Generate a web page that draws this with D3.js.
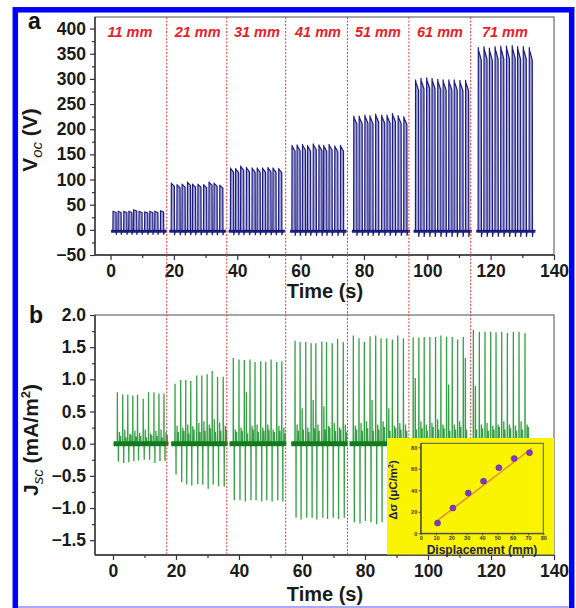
<!DOCTYPE html>
<html><head><meta charset="utf-8">
<script src="https://cdn.jsdelivr.net/npm/d3@7"></script>
<style>
body{margin:0;background:#fff}
svg{display:block}
text{font-family:"Liberation Sans",Arial,Helvetica,sans-serif;font-weight:bold}
</style>
</head><body>
<svg id="c" width="576" height="608"></svg>
<script>
// ---------------- DATA ----------------
const distanceLabels = ["11 mm","21 mm","31 mm","41 mm","51 mm","61 mm","71 mm"];
const distanceLabelT = [6.1, 27.5, 46.2, 65.5, 84.4, 104.0, 124.5];
const boundaryT = [17.75, 36.7, 55.3, 74.8, 94.2, 113.7];

const xTicks = [0,20,40,60,80,100,120,140];
const vocTicks = [-50,0,50,100,150,200,250,300,350,400];
const jscTicks = [-1.5,-1.0,-0.5,0.0,0.5,1.0,1.5,2.0];
const insetXTicks = [0,10,20,30,40,50,60,70,80];
const insetYTicks = [0,20,40,60,80];

// Voc pulse trains (time of each pulse, peak voltage)
const vocTimes = [
  [0.8,2.4,4.2,5.8,7.3,9.0,10.8,12.4,14.0,15.8],
  [19.2,21.0,22.6,24.3,25.9,27.6,29.4,31.1,32.7,34.5],
  [37.9,39.5,41.1,42.9,44.7,46.3,48.0,49.7,51.3,53.1],
  [57.3,58.9,60.6,62.2,64.0,65.8,67.3,69.0,70.8,72.6],
  [76.8,78.5,80.3,81.9,83.7,85.6,87.3,89.0,90.8,92.6],
  [96.3,98.0,99.8,101.5,103.3,105.0,106.8,108.5,110.3,112.1],
  [116.1,117.9,119.6,121.4,123.2,125.0,126.8,128.5,130.3,132.2]
];
const vocPeaks = [
  [37,37,37,37,40,37,36,37,37,38],
  [93,90,91,95,91,91,90,95,93,89],
  [123,122,127,124,123,123,123,124,123,122],
  [168,169,170,168,171,169,168,170,167,168],
  [226,226,228,227,230,228,228,231,227,225],
  [298,301,302,301,299,298,298,298,297,297],
  [362,364,361,364,365,365,366,364,364,362]
];
const vocTroughs = [-9,-10,-10,-11,-11,-13,-13];

// Jsc spike trains
const jscTimes = [
  [1.4,3.1,4.7,6.3,7.8,9.6,11.3,13.0,14.6,16.2],
  [19.7,21.5,23.1,24.7,26.6,28.2,29.9,31.5,33.2,35.0],
  [38.2,40.0,41.7,43.5,45.1,46.9,48.5,50.2,52.0,53.6],
  [57.8,59.4,61.2,62.9,64.4,66.3,67.8,69.6,71.3,73.1],
  [76.3,78.1,79.8,81.6,83.4,85.1,86.9,88.7,90.4,92.2],
  [95.3,97.1,98.8,100.6,102.4,104.1,105.9,107.7,109.4,111.2],
  [114.4,116.3,118.1,119.9,121.6,123.4,125.2,127.1,128.9,130.8]
];
const jscPositive = [
  [0.80,0.77,0.76,0.75,0.76,0.70,0.80,0.80,0.78,0.78],
  [0.93,0.99,0.99,0.98,1.06,1.06,1.08,1.13,1.04,1.04],
  [1.33,1.31,1.30,1.31,1.27,1.28,1.27,1.31,1.27,1.28],
  [1.60,1.58,1.58,1.56,1.56,1.59,1.58,1.56,1.63,1.58],
  [1.68,1.64,1.58,1.67,1.68,1.64,1.64,1.62,1.68,1.64],
  [1.65,1.65,1.66,1.66,1.66,1.68,1.66,1.66,1.62,1.66],
  [1.77,1.74,1.74,1.74,1.73,1.74,1.72,1.74,1.74,1.72]
];
const jscNegative = [
  [-0.28,-0.30,-0.29,-0.27,-0.26,-0.25,-0.25,-0.30,-0.27,-0.27],
  [-0.48,-0.60,-0.63,-0.65,-0.63,-0.64,-0.70,-0.64,-0.66,-0.67],
  [-0.88,-0.88,-0.90,-0.88,-0.88,-0.90,-0.88,-0.90,-0.88,-0.90],
  [-1.15,-1.18,-1.15,-1.15,-1.18,-1.15,-1.17,-1.15,-1.17,-1.15],
  [-1.22,-1.24,-1.20,-1.22,-1.25,-1.22,-1.22,-1.24,-1.22,-1.22],
  [-1.28,-1.30,-1.28,-1.30,-1.28,-1.30,-1.28,-1.30,-1.28,-1.30],
  [-1.32,-1.33,-1.32,-1.33,-1.32,-1.33,-1.32,-1.33,-1.32,-1.33]
];
const jscSecondary = [
  [0.18,0.22,0.15,0.20,0.17,0.22,0.16,0.20,0.22,0.18],
  [0.28,0.25,0.30,0.27,0.32,0.35,0.30,0.38,0.33,0.28],
  [0.22,0.25,0.80,0.28,0.30,0.25,0.30,0.22,0.28,0.25],
  [0.30,0.55,0.25,0.68,0.30,0.58,0.28,0.32,0.25,0.30],
  [0.28,0.32,0.35,0.68,0.30,0.35,0.55,0.28,0.32,0.30],
  [1.02,0.35,0.30,0.32,0.38,0.30,0.92,0.30,0.35,1.33],
  [0.90,0.30,0.32,0.28,0.30,0.35,0.30,0.28,0.35,0.30]
];
const jscTertiary = [
  [0.12,0.10,0.14,0.11,0.12,0.10,0.13,0.12,0.10,0.14],
  [0.18,0.20,0.16,0.22,0.18,0.20,0.24,0.18,0.20,0.22],
  [0.18,0.20,0.16,0.22,0.18,0.20,0.22,0.18,0.20,0.16],
  [0.20,0.22,0.18,0.24,0.20,0.22,0.25,0.20,0.22,0.18],
  [0.22,0.20,0.24,0.20,0.22,0.26,0.20,0.24,0.22,0.20],
  [0.22,0.24,0.20,0.26,0.22,0.24,0.20,0.22,0.26,0.22],
  [0.22,0.24,0.20,0.22,0.26,0.22,0.24,0.20,0.22,0.26]
];

// Inset: charge density vs displacement
const insetDisp = [11,21,31,41,51,61,71];
const insetSigma = [9.5,23.5,37.5,48.5,61,69.5,75];
const fitX = [10.5,72.5];
const fitY = [11.5,79];

// ---------------- DRAW ----------------
const svg = d3.select("#c");

// outer blue border
svg.append("rect").attr("x",15.3).attr("y",9.8).attr("width",556.4).attr("height",640)
  .attr("fill","none").attr("stroke","#0000ff").attr("stroke-width",5.5);
svg.append("line").attr("x1",18).attr("x2",568.5).attr("y1",607).attr("y2",607)
  .attr("stroke","#a9a9f5").attr("stroke-width",2);

const L = 95, R = 554;
const xA = d3.scaleLinear([-4.9,140],[L,R]);
const yA = d3.scaleLinear([-50,423],[255,17]);
const xB = d3.scaleLinear([-5.7,140],[L,R]);
const yB = d3.scaleLinear([-1.73,2.0],[555,315]);

function minorVals(major){ const out=[]; for(let i=0;i<major.length-1;i++) out.push((major[i]+major[i+1])/2); return out; }

function drawAxes(x, y, yTicks, yFmt, top, bottom){
  const g = svg.append("g");
  g.append("rect").attr("x",L).attr("y",top).attr("width",R-L).attr("height",bottom-top)
    .attr("fill","none").attr("stroke","#777").attr("stroke-width",1.3);
  const xm = g.append("g").attr("transform",`translate(0,${bottom})`)
    .call(d3.axisBottom(x).tickValues(minorVals(xTicks)).tickSize(3).tickFormat("").tickSizeOuter(0));
  xm.select(".domain").remove();
  const xa = g.append("g").attr("transform",`translate(0,${bottom})`)
    .call(d3.axisBottom(x).tickValues(xTicks).tickSize(5).tickSizeOuter(0).tickPadding(5).tickFormat(d3.format("d")));
  xa.select(".domain").attr("stroke","#333").attr("stroke-width",1.4).attr("d",`M${L},0H${R}`);
  const ym = g.append("g").attr("transform",`translate(${L},0)`)
    .call(d3.axisLeft(y).tickValues(minorVals(yTicks)).tickSize(3).tickFormat("").tickSizeOuter(0));
  ym.select(".domain").remove();
  const ya = g.append("g").attr("transform",`translate(${L},0)`)
    .call(d3.axisLeft(y).tickValues(yTicks).tickSize(5).tickSizeOuter(0).tickPadding(4).tickFormat(yFmt));
  ya.select(".domain").attr("stroke","#333").attr("stroke-width",1.4).attr("d",`M0,${top}V${bottom}`);
  g.selectAll(".tick line").attr("stroke","#333").attr("stroke-width",1.2);
  g.selectAll(".tick text").attr("font-size",17.5).attr("fill","#1a1a1a")
    .attr("font-family","'Liberation Sans',Arial,sans-serif").attr("font-weight","bold");
  return g;
}

// ---- Panel a ----
drawAxes(xA, yA, vocTicks, d3.format("d"), 17, 255);

const vocArea = d3.area().x(d=>xA(d[0])).y0(yA(0)).y1(d=>yA(d[1]));
const vocLine = d3.line().x(d=>xA(d[0])).y(d=>yA(d[1]));
vocTimes.forEach((times,s)=>{
  const pts = [[times[0]-0.6,-2]];
  const tr = vocTroughs[s];
  times.forEach((t,i)=>{
    const p = vocPeaks[s][i];
    pts.push([t-0.05,-3],[t,p],[t+0.08,p*0.985],[t+0.5,p*0.96],[t+0.95,p*0.93],
             [t+1.0,tr],[t+1.2,-4],[t+1.6,-2]);
  });
  pts.push([times[times.length-1]+1.9,-1]);
  svg.append("path").attr("d",vocArea(pts.map(d=>[d[0],Math.max(d[1],0)])))
    .attr("fill","#a3a3da");
  svg.append("path").attr("d",vocLine(pts)).attr("fill","none")
    .attr("stroke","#1c1c7e").attr("stroke-width",1.2).attr("stroke-linejoin","round");
  svg.append("path").attr("d",vocLine([[times[0]-0.6,-3],[times[times.length-1]+1.9,-3]]))
    .attr("stroke","#1c1c7e").attr("stroke-width",3).attr("fill","none");
});

// distance labels
svg.selectAll(".mm").data(distanceLabels).join("text")
  .attr("x",(d,i)=>xA(distanceLabelT[i])).attr("y",37)
  .attr("text-anchor","middle").attr("font-size",14.5).attr("font-style","italic")
  .attr("fill","#e8202a").text(d=>d);

// ---- Panel b ----
drawAxes(xB, yB, jscTicks, d3.format(".1f"), 315, 555);

const jLine = d3.line().x(d=>xB(d[0])).y(d=>yB(d[1]));
jscTimes.forEach((times,s)=>{
  const start = times[0]-1.2, end = times[times.length-1]+1.4;
  const pts = [[start,0]];
  times.forEach((t,i)=>{
    pts.push([t-0.04,0],[t,jscPositive[s][i]],[t+0.04,0],
             [t+0.28,0],[t+0.32,jscNegative[s][i]],[t+0.36,0],
             [t+0.62,0],[t+0.66,jscSecondary[s][i]],[t+0.7,0],
             [t+1.0,0],[t+1.04,jscTertiary[s][i]],[t+1.08,0]);
  });
  pts.push([end,0]);
  svg.append("path").attr("d",jLine(pts)).attr("fill","none")
    .attr("stroke","#35a043").attr("stroke-width",1.3);
  svg.append("path").attr("d",jLine([[start,0],[end,0]]))
    .attr("stroke","#147a20").attr("stroke-width",5).attr("fill","none");
});

// red dashed boundaries across both panels
svg.selectAll(".bd").data(boundaryT).join("line")
  .attr("x1",d=>xA(d)).attr("x2",d=>xA(d)).attr("y1",17).attr("y2",555)
  .attr("stroke","#e33a3a").attr("stroke-width",1).attr("stroke-dasharray","2,1.5");

// ---- Inset ----
const xI = d3.scaleLinear([0,80],[420.7,543.3]);
const yI = d3.scaleLinear([0,83.7],[533.3,443.3]);
svg.append("rect").attr("x",387).attr("y",438).attr("width",167).attr("height",116.5)
  .attr("fill","#fbf400");
const gi = svg.append("g");
gi.append("rect").attr("x",420.7).attr("y",443.3).attr("width",122.6).attr("height",90)
  .attr("fill","none").attr("stroke","#555").attr("stroke-width",1);
gi.append("g").attr("transform","translate(0,533.3)")
  .call(d3.axisBottom(xI).tickValues(insetXTicks).tickSize(2).tickSizeOuter(0).tickPadding(0.5));
gi.append("g").attr("transform","translate(420.7,0)")
  .call(d3.axisLeft(yI).tickValues(insetYTicks).tickSize(2).tickSizeOuter(0).tickPadding(1.5));
gi.selectAll(".domain").attr("stroke","#444");
gi.selectAll(".tick line").attr("stroke","#444");
gi.selectAll(".tick text").attr("font-size",5.5).attr("fill","#333")
  .attr("font-family","'Liberation Sans',Arial,sans-serif").attr("font-weight","bold");
gi.append("path").attr("d",d3.line().x(d=>xI(d[0])).y(d=>yI(d[1]))(fitX.map((v,i)=>[v,fitY[i]])))
  .attr("stroke","#e87a4a").attr("stroke-width",1.3).attr("fill","none");
gi.selectAll("circle").data(insetDisp).join("circle")
  .attr("cx",d=>xI(d)).attr("cy",(d,i)=>yI(insetSigma[i])).attr("r",3)
  .attr("fill","#7a3cc0").attr("stroke","#5a2a90").attr("stroke-width",0.6);
gi.append("text").attr("x",482).attr("y",554).attr("text-anchor","middle")
  .attr("font-size",12).attr("fill","#23235a").text("Displacement (mm)");
const yl = gi.append("text").attr("transform","translate(397,490) rotate(-90)")
  .attr("text-anchor","middle").attr("font-size",11.5).attr("fill","#23235a");
yl.append("tspan").text("Δσ (μC/m");
yl.append("tspan").attr("font-size",7).attr("dy",-4).text("2");
yl.append("tspan").attr("dy",4).text(")");

// ---- Axis titles ----
svg.append("text").attr("x",325).attr("y",298).attr("text-anchor","middle")
  .attr("font-size",20).attr("fill","#1a1a1a").text("Time (s)");
svg.append("text").attr("x",325).attr("y",601).attr("text-anchor","middle")
  .attr("font-size",20).attr("fill","#1a1a1a").text("Time (s)");

const va = svg.append("text").attr("transform","translate(37,140) rotate(-90)")
  .attr("text-anchor","middle").attr("font-size",21).attr("fill","#1a1a1a");
va.append("tspan").text("V");
va.append("tspan").attr("font-size",15).attr("font-style","italic").attr("font-weight","normal").attr("dy",5).text("oc");
va.append("tspan").attr("dy",-5).text(" (V)");

const jb = svg.append("text").attr("transform","translate(38,440) rotate(-90)")
  .attr("text-anchor","middle").attr("font-size",21).attr("fill","#1a1a1a");
jb.append("tspan").text("J");
jb.append("tspan").attr("font-size",15).attr("font-style","italic").attr("font-weight","normal").attr("dy",5).text("sc");
jb.append("tspan").attr("dy",-5).text(" (mA/m");
jb.append("tspan").attr("font-size",13).attr("dy",-8).text("2");
jb.append("tspan").attr("dy",8).text(")");

// panel letters
svg.append("text").attr("x",28).attr("y",29).attr("font-size",23).attr("fill","#111").text("a");
svg.append("text").attr("x",29).attr("y",323).attr("font-size",23).attr("fill","#111").text("b");
</script>
</body></html>
